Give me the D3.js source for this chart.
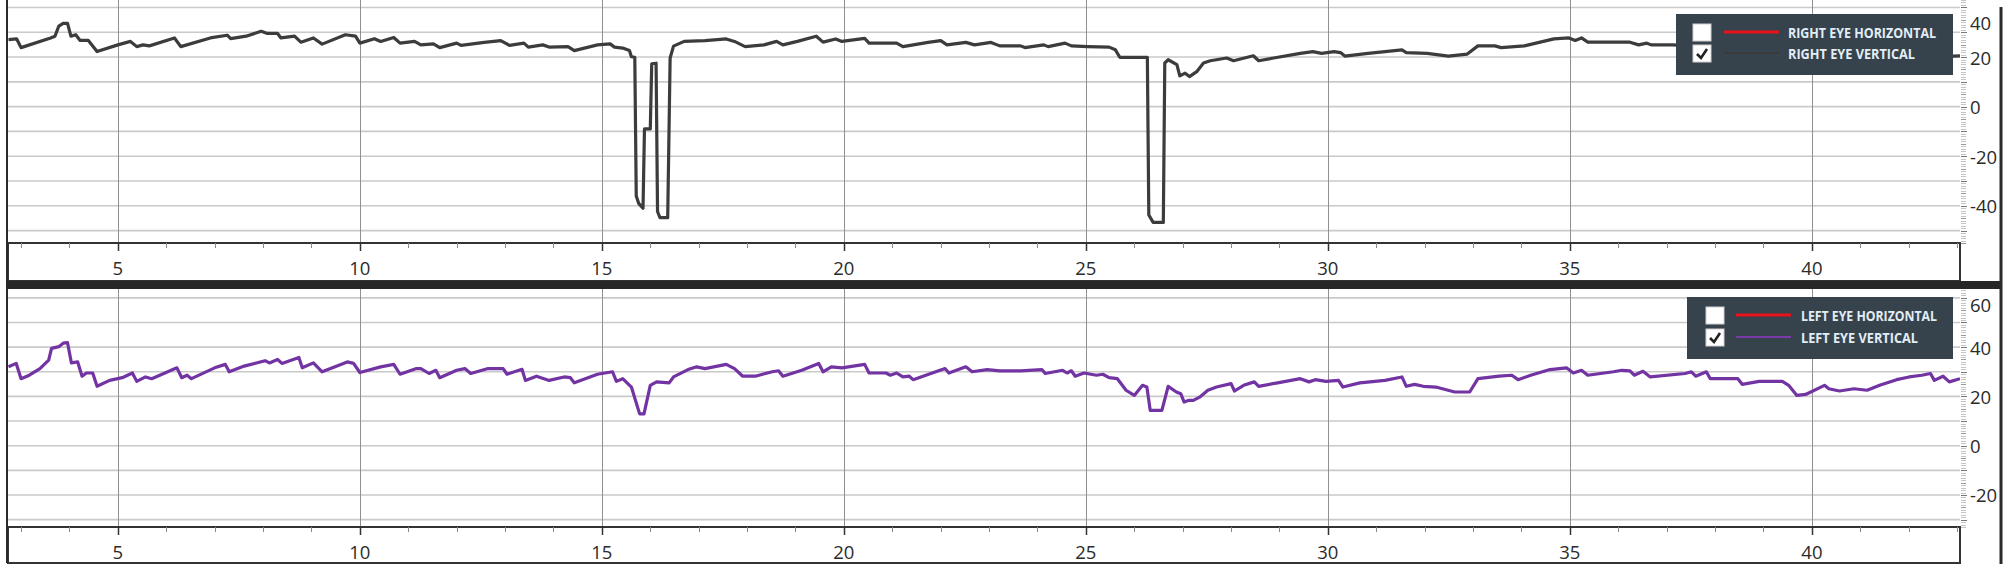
<!DOCTYPE html>
<meta charset="utf-8">
<style>
body { margin: 0; background: #fff; }
svg { display: block; }
.grid-h { stroke: #cacaca; stroke-width: 1.6; }
.grid-v { stroke: #909090; stroke-width: 1; }
.xlab, .ylab { font-family: "Open Sans", "Noto Sans", sans-serif; font-size: 18.5px; fill: #2b2b2b; }
.legtext { font-family: "Open Sans", "Noto Sans", sans-serif; font-size: 13.5px; font-weight: 700; fill: #e3edf5; }
</style>
<svg width="2008" height="571"></svg>
<script src="https://cdn.jsdelivr.net/npm/d3@7"></script>
<script>

// time axis (seconds)
var xTicks = [5, 10, 15, 20, 25, 30, 35, 40];

// right eye vertical (top chart)
var rightEyeT = [2.74,2.91,3.0,3.61,3.70,3.78,3.87,3.96,4.03,4.13,4.22,4.39,4.57,5.0,5.26,5.39,5.52,5.65,6.17,6.30,
  6.91,7.26,7.33,7.65,7.96,8.09,8.30,8.37,8.65,8.78,9.04,9.22,9.70,9.91,10.0,10.30,10.43,10.70,10.83,11.13,
  11.26,11.52,11.65,12.0,12.09,12.57,12.91,13.09,13.39,13.48,13.78,13.91,14.30,14.43,14.91,15.17,15.26,15.43,15.57,15.61,
  15.68,15.71,15.76,15.85,15.88,16.0,16.03,16.12,16.15,16.2,16.36,16.41,16.48,16.70,17.13,17.57,17.74,17.96,18.35,18.61,
  18.74,19.04,19.43,19.57,19.83,19.96,20.43,20.52,21.09,21.22,21.74,22.0,22.13,22.52,22.70,23.04,23.22,23.65,23.74,24.13,
  24.22,24.57,24.70,25.04,25.48,25.61,25.70,26.27,26.30,26.39,26.60,26.63,26.70,26.88,26.94,27.05,27.14,27.29,27.43,27.57,
  27.91,28.05,28.46,28.57,28.88,29.43,29.69,29.87,30.13,30.26,30.35,30.83,31.53,31.62,32.05,32.49,32.88,33.10,33.45,33.58,
  34.06,34.67,34.98,35.11,35.24,35.37,36.24,36.42,36.59,36.68,37.12,37.5,38.0,38.6,39.2,39.55,39.7,39.85,40.1,40.5,
  41.0,41.6,42.2,42.7,42.92,43.06];
var rightEyeV = [27,27.3,23.8,27.7,28.4,32.5,33.6,33.6,28.4,29,26.7,26.7,22.2,24.9,26.3,24.2,24.9,24.5,27.7,24.2,
  27.7,28.8,27.4,28.4,30.4,29.5,29.5,27.7,28.4,26,27.7,25.2,29,28.4,25.6,27.4,26.3,27.9,25.6,26.3,
  24.9,25.3,23.8,25.6,24.7,25.9,26.6,24.7,25.6,24,24.9,24,24.2,22.6,24.9,25.3,24,23.6,22.6,20.1,
  19.9,-36,-39,-41,-9,-9,17.3,17.5,-42.3,-44.8,-44.8,19.6,24.4,26.3,26.6,27.3,26.3,24.2,24.9,26.3,
  24.9,26.3,28.4,26,27.3,26.3,27.5,25.6,25.6,24.2,25.9,26.6,24.9,25.9,24.9,25.9,24.5,24.5,23.8,24.9,
  24.2,25.6,24.5,24.2,24,22.9,19.9,19.9,-43.7,-46.7,-46.7,17.6,18.9,16.9,12.4,13.5,12.1,14.1,17.6,18.5,
  19.6,18.5,20.5,18.5,19.6,21.5,22.2,21.5,22.2,21.8,20.4,21.5,22.9,21.8,21.5,20.4,21.2,24.5,24.5,23.8,
  24.5,27.3,27.7,26.7,27.7,26,26,24.9,25.6,24.9,24.9,24.5,23.6,22.8,22,17,13.5,13.5,17,19.5,
  21,20.5,21.5,20,20.4,20.5];

// left eye vertical (bottom chart)
var leftEyeT = [2.74,2.90,3.00,3.17,3.39,3.57,3.63,3.78,3.87,3.96,4.04,4.17,4.26,4.35,4.48,4.57,4.83,5.09,5.30,5.39,
  5.57,5.70,6.22,6.32,6.43,6.52,7.00,7.22,7.30,7.61,8.04,8.13,8.30,8.39,8.74,8.81,9.04,9.22,9.74,9.87,
  10.00,10.43,10.70,10.83,11.17,11.26,11.43,11.57,11.65,12.00,12.17,12.29,12.65,12.96,13.04,13.35,13.42,13.65,13.91,14.22,
  14.35,14.43,14.91,15.22,15.30,15.43,15.61,15.78,15.87,16.00,16.13,16.39,16.48,16.78,16.96,17.13,17.57,17.74,17.91,18.17,
  18.52,18.65,18.74,19.13,19.48,19.57,19.74,19.96,20.43,20.52,20.87,20.96,21.09,21.22,21.35,21.43,22.09,22.17,22.52,22.65,
  22.96,23.22,23.65,24.09,24.16,24.52,24.61,24.70,24.78,24.96,25.22,25.35,25.48,25.65,25.83,26.0,26.17,26.26,26.33,26.57,
  26.70,26.87,26.96,27.03,27.13,27.22,27.35,27.52,27.70,28.0,28.07,28.26,28.48,28.57,28.96,29.43,29.61,29.74,29.96,30.22,
  30.31,30.66,31.18,31.53,31.62,31.79,31.97,32.23,32.62,32.93,33.10,33.54,33.80,33.93,34.19,34.59,34.93,35.07,35.24,35.37,
  35.90,36.07,36.24,36.33,36.51,36.66,37.38,37.51,37.60,37.82,37.90,38.47,38.56,38.91,39.39,39.52,39.69,39.87,40.26,40.35,
  40.57,40.87,41.14,41.40,41.75,42.01,42.27,42.45,42.53,42.71,42.84,43.06];
var leftEyeV = [32,33.4,27.2,28.6,31.3,34.7,39.5,40.2,41.6,41.8,33.6,34,28.2,29.5,29.5,24.1,26.5,27.6,29.5,26.1,
  27.9,27.2,31.6,27.6,28.6,27.2,31.6,33,30,32.3,34.5,33.6,35,33.4,35.8,31.6,33.6,30,34,33.4,
  29.7,32,33,29,31.3,31.3,29.3,30.6,27.6,30.6,31.3,29.3,31.3,31.3,29,31,26.5,28.2,26.5,27.9,
  27.6,25.5,29,30,26.1,27.2,23.8,12.9,12.9,24.5,25.9,25.5,27.9,30.9,32,31.3,33,31.3,28.2,28.2,
  30,30.4,28.2,30.6,33.4,30,32,31.6,33,29.5,29.5,28.6,29.5,27.9,28.2,26.8,31.3,29.5,32,30,
  30.9,30.4,30.4,30.9,29.3,30.6,29.5,30.4,28.2,29.5,28.6,29,27.6,27.2,22.5,20.4,24.5,23.8,14.3,14.3,
  24.1,21.8,21.1,17.7,18.4,18.4,19.7,22.5,23.8,25.2,22.2,24.5,25.9,24.1,25.5,27.2,25.9,26.8,26.1,26.5,
  23.8,25.5,26.5,27.9,24.1,24.9,24.1,23.8,21.8,21.8,27.2,28.2,28.6,26.8,28.6,30.9,31.6,29.5,30.6,28.6,
  30,30.6,30.4,28.6,30.2,27.9,29.3,30,28.2,30,27.2,27.2,24.9,26.1,26.1,24.5,20.4,20.8,24.5,23.1,
  22.2,23.1,22.5,24.5,26.8,27.9,28.6,29.3,26.5,28.2,25.9,27.2];

var topYTicks = [40, 20, 0, -20, -40];
var bottomYTicks = [60, 40, 20, 0, -20];
var rightLegend = ["RIGHT EYE HORIZONTAL", "RIGHT EYE VERTICAL"];
var leftLegend = ["LEFT EYE HORIZONTAL", "LEFT EYE VERTICAL"];
var legendChecked = [false, true];

var svg = d3.select("svg");

var plotLeft = 8, plotRight = 1960;

var x = d3.scaleLinear()
    .domain([2.73, 43.06])
    .range([plotLeft, plotRight]);

var panels = [
  { top: 0, bottom: 243, bandBottom: 281, domain: [-55, 43], yTicks: topYTicks, minLabelY: 22,
    t: rightEyeT, v: rightEyeV, color: "#3c3c3c", legend: rightLegend,
    legendColors: ["#e8131b", "#3b3b3b"], box: [1676, 14, 277, 61], rowY: [33, 54], boxLeft: 1693, lineLeft: 1724, textLeft: 1788,
    textLen: [148, 127] },
  { top: 288, bottom: 527, bandBottom: 563, domain: [-33, 64], yTicks: bottomYTicks, minLabelY: 304,
    t: leftEyeT, v: leftEyeV, color: "#7334a3", legend: leftLegend,
    legendColors: ["#e8131b", "#7a3aa8"], box: [1687, 297, 266, 62], rowY: [316, 338], boxLeft: 1706, lineLeft: 1736, textLeft: 1801,
    textLen: [136, 117] }
];

panels.forEach(function(p, i) {
  var y = d3.scaleLinear().domain(p.domain).range([p.bottom, p.top]);
  var g = svg.append("g");

  // horizontal grid every 10
  var hticks = d3.range(Math.ceil(p.domain[0] / 10) * 10, p.domain[1], 10);
  g.selectAll(".grid-h").data(hticks).enter().append("line")
      .attr("class", "grid-h")
      .attr("x1", plotLeft).attr("x2", plotRight)
      .attr("y1", function(d) { return y(d); }).attr("y2", function(d) { return y(d); });

  // vertical grid every 5
  g.selectAll(".grid-v").data(xTicks).enter().append("line")
      .attr("class", "grid-v")
      .attr("x1", function(d) { return Math.round(x(d)) + 0.5; })
      .attr("x2", function(d) { return Math.round(x(d)) + 0.5; })
      .attr("y1", p.top).attr("y2", p.bottom);

  // the signal
  var clipId = "clip" + i;
  svg.append("clipPath").attr("id", clipId).append("rect")
      .attr("x", plotLeft).attr("y", p.top).attr("width", plotRight - plotLeft).attr("height", p.bottom - p.top);

  var line = d3.line()
      .x(function(d) { return x(d[0]); })
      .y(function(d) { return y(d[1]); });

  g.append("path")
      .datum(d3.zip(p.t, p.v))
      .attr("clip-path", "url(#" + clipId + ")")
      .attr("fill", "none")
      .attr("stroke", p.color)
      .attr("stroke-width", 3.2)
      .attr("stroke-linejoin", "round")
      .attr("d", line);

  // x axis band
  g.append("rect")
      .attr("x", plotLeft).attr("y", p.bottom)
      .attr("width", plotRight - plotLeft).attr("height", p.bandBottom - p.bottom)
      .attr("fill", "#fff").attr("stroke", "#333").attr("stroke-width", 2);

  var minor = d3.range(3, 44);
  g.selectAll(".xminor").data(minor).enter().append("line")
      .attr("x1", function(d) { return Math.round(x(d)) + 0.5; })
      .attr("x2", function(d) { return Math.round(x(d)) + 0.5; })
      .attr("y1", p.bottom).attr("y2", function(d) { return p.bottom + (d % 5 === 0 ? 8 : 5); })
      .attr("stroke", function(d) { return d % 5 === 0 ? "#333" : "#888"; })
      .attr("stroke-width", function(d) { return d % 5 === 0 ? 1.5 : 1; });

  g.selectAll(".xlab").data(xTicks).enter().append("text")
      .attr("class", "xlab")
      .attr("x", function(d) { return x(d); })
      .attr("y", p.bottom + 24)
      .attr("text-anchor", "middle")
      .attr("dominant-baseline", "central")
      .text(function(d) { return d; });

  // y axis on the right
  var yminor = d3.range(Math.ceil(p.domain[0]), Math.floor(p.domain[1]) + 1);
  g.selectAll(".yminor").data(yminor).enter().append("line")
      .attr("x1", plotRight + 1).attr("x2", function(d) { return plotRight + (d % 10 === 0 ? 7 : 6); })
      .attr("y1", function(d) { return Math.round(y(d)) + 0.5; })
      .attr("y2", function(d) { return Math.round(y(d)) + 0.5; })
      .attr("stroke", function(d) { return d % 10 === 0 ? "#777" : (d % 5 === 0 ? "#999" : "#c4c4c4"); })
      .attr("stroke-width", 1);

  g.selectAll(".ylab").data(p.yTicks).enter().append("text")
      .attr("class", "ylab")
      .attr("x", 1970)
      .attr("y", function(d) { return Math.max(y(d), p.minLabelY); })
      .attr("dominant-baseline", "central")
      .text(function(d) { return d; });

  // plot left border
  g.append("line")
      .attr("x1", plotLeft - 1).attr("x2", plotLeft - 1)
      .attr("y1", p.top).attr("y2", p.bandBottom)
      .attr("stroke", "#2a2a2a").attr("stroke-width", 2);

  // legend
  var lg = g.append("g");
  lg.append("rect")
      .attr("x", p.box[0]).attr("y", p.box[1]).attr("width", p.box[2]).attr("height", p.box[3])
      .attr("fill", "#36434d");

  p.legend.forEach(function(name, k) {
    var ry = p.rowY[k];
    lg.append("rect")
        .attr("x", p.boxLeft).attr("y", ry - 9).attr("width", 18).attr("height", 17)
        .attr("fill", "#fff").attr("stroke", "#d0d0d0").attr("stroke-width", 1);
    if (legendChecked[k]) {
      lg.append("path")
          .attr("d", "M" + (p.boxLeft + 4) + "," + (ry) + " L" + (p.boxLeft + 8) + "," + (ry + 4) + " L" + (p.boxLeft + 14) + "," + (ry - 5))
          .attr("fill", "none").attr("stroke", "#222").attr("stroke-width", 2.6);
    }
    lg.append("line")
        .attr("x1", p.lineLeft).attr("x2", p.lineLeft + 55)
        .attr("y1", ry - 1).attr("y2", ry - 1)
        .attr("stroke", p.legendColors[k]).attr("stroke-width", k === 0 ? 3 : 2.2);
    lg.append("text")
        .attr("class", "legtext")
        .attr("x", p.textLeft).attr("y", ry + 4.5)
        .attr("textLength", p.textLen[k]).attr("lengthAdjust", "spacingAndGlyphs")
        .text(name);
  });
});

// divider bar and right frame
svg.append("rect")
    .attr("x", plotLeft - 2).attr("y", 281).attr("width", 2003 - plotLeft).attr("height", 8)
    .attr("fill", "#262626");
svg.append("line")
    .attr("x1", 2001).attr("x2", 2001).attr("y1", 7).attr("y2", 564)
    .attr("stroke", "#2a2a2a").attr("stroke-width", 3);

</script>
